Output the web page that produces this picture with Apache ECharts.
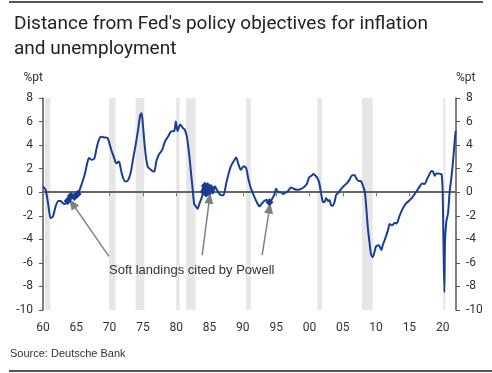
<!DOCTYPE html>
<html><head><meta charset="utf-8">
<script src="https://cdn.jsdelivr.net/npm/echarts@6/dist/echarts.min.js"></script>
<style>html,body{margin:0;padding:0;background:#fff}#c{width:492px;height:373px}</style>
</head><body><div id="c"></div>
<script>
const years = [1960.0,1960.4,1960.8,1961.15,1961.5,1961.9,1962.3,1962.65,1963.0,1963.3,1963.7,1964.2,1964.7,1965.2,1965.5,1965.9,1966.3,1966.7,1966.9,1967.3,1967.7,1968.0,1968.3,1968.7,1969.2,1969.7,1970.0,1970.3,1970.7,1971.0,1971.4,1971.7,1972.0,1972.4,1972.8,1973.2,1973.5,1973.9,1974.3,1974.6,1974.8,1975.0,1975.3,1975.7,1976.2,1976.7,1977.0,1977.4,1977.9,1978.3,1978.8,1979.2,1979.7,1979.95,1980.2,1980.6,1981.0,1981.3,1981.6,1981.95,1982.2,1982.45,1982.7,1982.95,1983.2,1983.5,1983.8,1984.1,1984.3,1984.5,1984.7,1984.95,1985.2,1985.5,1985.8,1986.1,1986.5,1986.8,1987.1,1987.5,1987.8,1988.2,1988.6,1989.0,1989.3,1989.7,1990.1,1990.5,1990.8,1991.2,1991.7,1992.1,1992.5,1992.8,1993.2,1993.6,1994.0,1994.3,1994.7,1995.0,1995.3,1995.7,1996.1,1996.5,1996.8,1997.2,1997.6,1998.1,1998.6,1999.1,1999.6,1999.95,2000.3,2000.6,2000.9,2001.15,2001.45,2001.75,2002.0,2002.25,2002.5,2002.8,2003.0,2003.25,2003.5,2003.8,2004.0,2004.4,2004.8,2005.2,2005.6,2006.0,2006.4,2006.8,2007.0,2007.4,2007.7,2008.0,2008.3,2008.5,2008.75,2009.0,2009.25,2009.5,2009.8,2010.0,2010.4,2010.8,2011.0,2011.4,2011.8,2012.05,2012.4,2012.8,2013.1,2013.5,2013.9,2014.3,2014.6,2015.0,2015.4,2015.8,2016.1,2016.5,2016.9,2017.3,2017.6,2017.95,2018.3,2018.55,2018.8,2019.05,2019.3,2019.65,2019.85,2020.0,2020.1,2020.25,2020.35,2020.55,2020.8,2021.05,2021.3,2021.55,2021.8,2021.95];
const gap = [0.5,0.2,-1.1,-2.2,-2.05,-1.2,-0.75,-0.75,-0.95,-1.0,-0.75,-0.3,-0.4,-0.15,0.2,0.85,1.6,2.6,2.9,2.75,2.85,3.6,4.3,4.7,4.65,4.6,4.1,3.5,2.9,2.45,2.6,1.9,1.25,0.9,1.05,1.75,2.75,4.0,5.4,6.55,6.7,5.7,3.75,2.2,1.9,1.75,2.6,3.2,3.6,4.3,4.75,5.15,5.2,6.0,5.2,5.75,5.45,5.3,4.7,3.2,1.75,0.35,-1.0,-1.2,-1.4,-0.95,-0.5,0.05,0.55,-0.1,0.5,0.05,0.35,-0.1,0.5,0.2,-0.15,-0.25,-0.25,0.75,1.45,2.2,2.6,2.95,2.45,1.9,2.2,2.05,1.2,0.35,-0.35,-0.85,-1.2,-1.0,-0.75,-0.65,-0.85,-0.65,-0.25,0.3,0.0,0.0,-0.15,0.0,0.1,0.4,0.3,0.2,0.25,0.4,0.7,1.25,1.4,1.55,1.4,1.25,0.85,-0.1,-0.8,-0.85,-0.5,-0.75,-0.65,-1.1,-1.15,-0.75,-0.25,0.0,0.3,0.55,0.75,1.05,1.45,1.45,1.2,0.95,0.95,0.6,0.05,-1.1,-2.9,-4.2,-5.3,-5.5,-5.0,-4.6,-4.5,-4.9,-4.5,-3.9,-3.2,-2.7,-2.8,-2.6,-2.65,-2.05,-1.5,-1.1,-0.9,-0.7,-0.45,-0.15,0.1,0.45,0.75,0.7,1.05,1.45,1.8,1.75,1.4,1.6,1.6,1.55,1.5,0.0,-3.6,-8.5,-4.2,-2.5,-1.8,0.05,1.2,2.6,4.3,5.2];
const recessions = [[1960.3,1961.1],[1969.9,1970.9],[1973.9,1975.2],[1980.0,1980.5],[1981.5,1982.9],[1990.5,1991.2],[2001.2,2001.9],[2007.9,2009.5],[2020.1,2020.4]];
const softLandings = [[1963.6,1965.3],[1984.0,1985.3],[1993.9,1994.1]];
const arrows = [[[1969.9,-5.45],[1964.4,-0.95]],[[1983.9,-5.35],[1985.0,-0.5]],[[1992.9,-5.35],[1994.0,-1.35]]];
const xTicks = ['60','65','70','75','80','85','90','95','00','05','10','15','20'];
const yTicks = [-10,-8,-6,-4,-2,0,2,4,6,8];

const FONT = 'Roboto';
const FONT2 = 'Liberation Sans';
const lineData = years.map((y,i)=>[y,gap[i]]);
const softSeries = softLandings.map(r => ({
  type:'line', z:5, data: lineData.filter(p=>p[0]>=r[0]&&p[0]<=r[1]),
  symbol:'diamond', symbolSize:8, showSymbol:true,
  itemStyle:{color:'#173c92'}, lineStyle:{color:'#173c92', width:5}, silent:true
}));

const chart = echarts.init(document.getElementById('c'), null, {renderer:'canvas'});
const yAxisBase = {
  type:'value', min:-10, max:8, interval:2,
  splitLine:{show:false},
  axisLine:{show:true, lineStyle:{color:'#555', width:1.5}},
  axisTick:{show:true, length:4, lineStyle:{color:'#555', width:1}},
  name:'%pt', nameLocation:'end', nameGap:14,
  axisLabel:{color:'#333', fontSize:12, fontFamily:FONT, margin:10,
    formatter:v=> yTicks.includes(v)? String(v):''}
};
chart.setOption({
  animation:false,
  title:{text:"Distance from Fed's policy objectives for inflation\nand unemployment", left:9, top:7,
    textStyle:{fontFamily:FONT, fontSize:19, fontWeight:'normal', color:'#222', lineHeight:25}},
  grid:{left:43, right:36, top:98, bottom:63},
  xAxis:[
    {type:'value', min:1960, max:2022, interval:5, position:'bottom',
     splitLine:{show:false}, axisLine:{show:false}, axisTick:{show:false},
     axisLabel:{color:'#333', fontSize:12, fontFamily:FONT, margin:12,
       formatter:v=>{const k=Math.round((v-1960)/5); return (Math.abs(v-1960-5*k)<1e-6 && xTicks[k])? xTicks[k]:'';}}},
    {type:'value', min:1960, max:2022, interval:5, position:'bottom', z:4,
     splitLine:{show:false},
     axisLine:{show:true, onZero:true, onZeroAxisIndex:0, lineStyle:{color:'#666', width:2}},
     axisTick:{show:true, length:4, lineStyle:{color:'#777', width:1}},
     axisLabel:{show:false}}
  ],
  yAxis:[
    Object.assign({}, yAxisBase, {position:'left',
      nameTextStyle:{color:'#333', fontSize:12, fontFamily:FONT, align:'right'}}),
    Object.assign({}, yAxisBase, {position:'right',
      nameTextStyle:{color:'#333', fontSize:12, fontFamily:FONT, align:'left'}})
  ],
  series:[
    {type:'line', name:'bands', data:[], z:1, silent:true,
     markArea:{silent:true, itemStyle:{color:'#e6e6e6'},
       data: recessions.map(r=>[{xAxis:r[0]},{xAxis:r[1]}])}},
    {type:'line', name:'gap', data:lineData, z:4, smooth:0.25, showSymbol:false, symbol:'none',
     lineStyle:{color:'#183f93', width:2}, silent:true},
    ...softSeries,
    {type:'line', name:'arrows', data:[], z:6, silent:true,
     markLine:{silent:true, symbol:['none','triangle'], symbolSize:[9,11], animation:false,
       lineStyle:{color:'#808080', width:1.5, type:'solid'}, label:{show:false},
       data: arrows.map(a=>[{coord:a[0]},{coord:a[1]}])}}
  ],
  graphic:[
    {type:'rect', left:9, top:1, shape:{width:474, height:2}, style:{fill:'#555'}},
    {type:'rect', left:9, top:370, shape:{width:483, height:2}, style:{fill:'#555'}},
    {type:'text', left:109, top:264, z:10, style:{text:'Soft landings cited by Powell', font:'13px "Liberation Sans"', fill:'#333'}},
    {type:'text', left:10, top:348, z:10, style:{text:'Source: Deutsche Bank', font:'11px "Liberation Sans"', fill:'#333'}}
  ]
});
</script></body></html>
